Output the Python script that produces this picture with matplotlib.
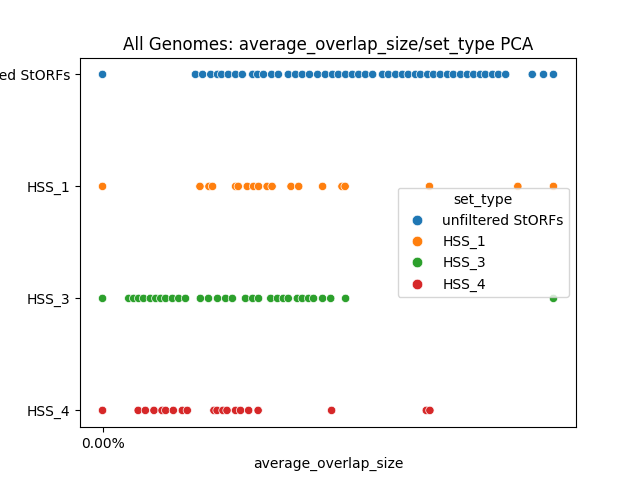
import pandas as pd
import matplotlib
matplotlib.use("Agg")
import matplotlib.pyplot as plt
from matplotlib.ticker import PercentFormatter
import seaborn as sns

# average_overlap_size per set
unfiltered = [0, 20.6, 22.2, 24.0, 25.5, 26.4, 27.9, 29.5, 31.0, 33.3, 34.4, 35.7,
              37.5, 39.0, 41.2, 42.8, 44.3, 45.9, 47.7, 49.4, 51.0, 52.3, 53.9,
              55.4, 56.8, 58.3, 59.9, 62.1, 63.4, 65.0, 66.5, 67.8, 69.4, 70.5,
              72.1, 73.4, 74.9, 76.5, 77.8, 79.4, 80.9, 82.3, 83.8, 84.9, 86.5,
              87.8, 89.4, 95.3, 97.8, 100]
hss_1 = [0, 21.6, 23.6, 24.4, 29.5, 30.1, 32.1, 33.5, 34.6, 36.5, 37.6, 41.8,
         43.5, 48.8, 53.1, 53.8, 72.5, 92.1, 100]
hss_3 = [0, 5.8, 6.9, 8.0, 9.1, 10.6, 11.8, 12.9, 14.0, 15.5, 16.9, 18.4, 21.7,
         23.5, 25.5, 27.3, 28.8, 31.7, 33.3, 34.6, 37.3, 38.8, 40.1, 41.2, 43.2,
         44.3, 45.7, 46.8, 48.8, 50.6, 53.9, 100]
hss_4 = [0, 7.9, 9.5, 11.4, 13.2, 14.0, 15.7, 17.7, 18.8, 24.7, 25.4, 26.7,
         27.6, 29.5, 30.6, 32.4, 34.5, 50.8, 71.8, 72.6]

sets = {"unfiltered StORFs": unfiltered, "HSS_1": hss_1, "HSS_3": hss_3, "HSS_4": hss_4}

rows = []
for name, vals in sets.items():
    for v in vals:
        rows.append({"average_overlap_size": v, "set_type": name})
df = pd.DataFrame(rows)

fig, ax = plt.subplots(figsize=(6.4, 4.8), dpi=100)
sns.scatterplot(data=df, x="average_overlap_size", y="set_type", hue="set_type", ax=ax)

ax.set_title("All Genomes: average_overlap_size/set_type PCA")
ax.set_xticks([0])
ax.xaxis.set_major_formatter(PercentFormatter(xmax=1, decimals=2))
sns.move_legend(ax, "center right")
# bigger legend dots, like the reference
for h in ax.get_legend().legend_handles:
    h.set_markersize(7.6)
    h.set_markeredgecolor("white")

plt.savefig("out.png")
